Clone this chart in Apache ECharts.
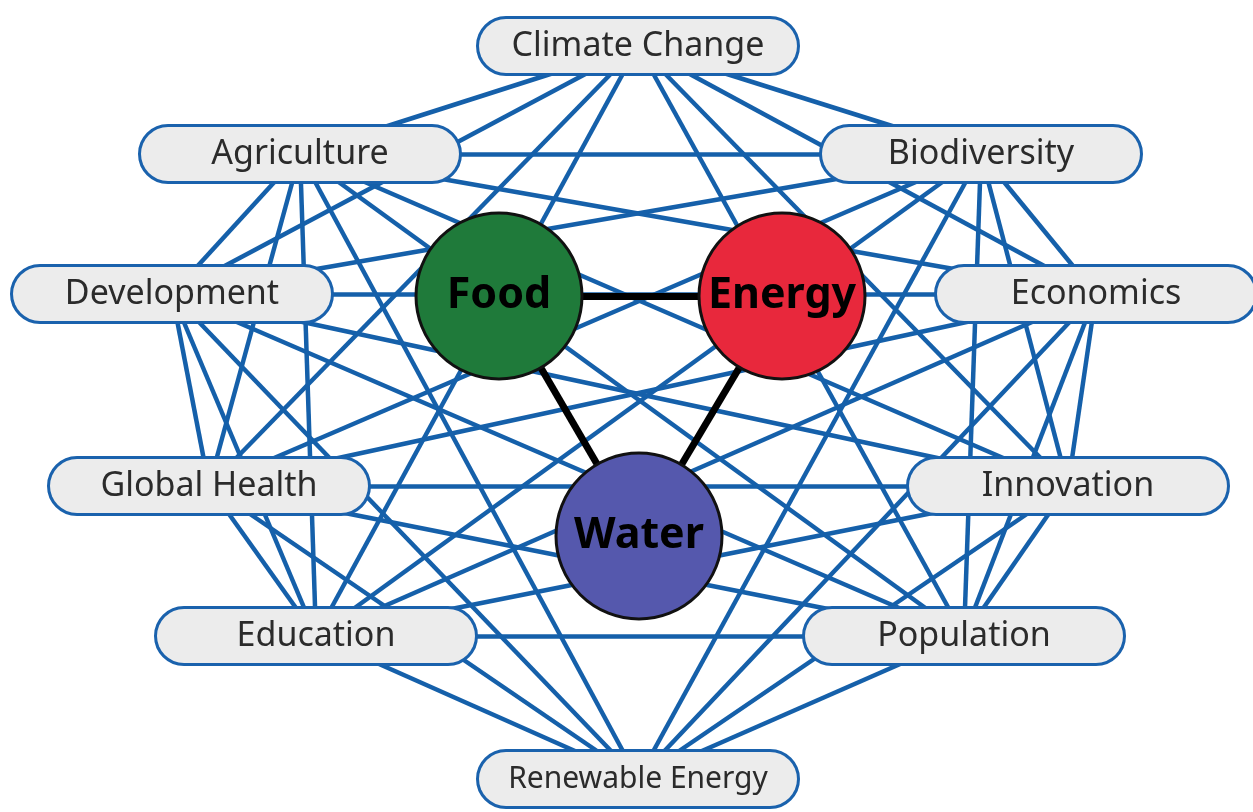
<!DOCTYPE html>
<html>
<head>
<meta charset="utf-8">
<script src="https://cdn.jsdelivr.net/npm/echarts@6/dist/echarts.min.js"></script>
<style>html,body{margin:0;padding:0;background:#fff}#c{width:1253px;height:812px}</style>
</head>
<body>
<div id="c"></div>
<script>
// Outer topic nodes
const outerNames = ['Climate Change','Agriculture','Biodiversity','Development','Economics','Global Health','Innovation','Education','Population','Renewable Energy'];
const outerX = [638, 300, 981, 172, 1096, 209, 1068, 316, 964, 638];
const outerY = [46, 154, 154, 294, 294, 486, 486, 636, 636, 779];
// Core nexus nodes
const coreNames = ['Food','Energy','Water'];
const coreX = [499, 782, 639];
const coreY = [296, 296, 536];
const coreColors = ['#1f7a3a', '#e8283c', '#5558ad'];
// Blue links between outer topics (indices into outerNames)
const outerLinks = [
  [0,1],[0,2],[0,3],[0,4],[0,5],[0,6],[0,7],[0,8],
  [1,2],[1,3],[1,4],[1,5],[1,6],[1,7],[1,8],[1,9],
  [2,3],[2,4],[2,5],[2,6],[2,7],[2,8],[2,9],
  [3,4],[3,5],[3,6],[3,7],[3,8],[3,9],
  [4,5],[4,6],[4,7],[4,8],[4,9],
  [5,6],[5,7],[5,8],[5,9],
  [6,7],[6,8],[6,9],
  [7,8],[7,9],
  [8,9]
];
// Black links between core nodes (indices into coreNames)
const coreLinks = [[0,1],[0,2],[1,2]];

const nodes = [];
outerNames.forEach((n, i) => {
  nodes.push({
    name: n, value: [outerX[i], outerY[i]],
    symbol: 'rect', symbolSize: [4, 4],
    itemStyle: {color: 'transparent', borderWidth: 0},
    label: {show: true, position: 'inside', color: '#2b2b2b',
      fontFamily: 'Noto Sans', fontSize: n === 'Renewable Energy' ? 30 : 34,
      width: 318, height: 54, lineHeight: 54, align: 'center', verticalAlign: 'middle',
      padding: 0, backgroundColor: '#ececec', borderColor: '#1a62ad', borderWidth: 3,
      borderRadius: 27}
  });
});
coreNames.forEach((n, i) => {
  nodes.push({
    name: n, value: [coreX[i], coreY[i]],
    symbol: 'circle', symbolSize: 166,
    itemStyle: {color: coreColors[i], borderColor: '#111', borderWidth: 3},
    label: {show: true, position: 'inside', color: '#000',
      fontFamily: 'Noto Sans', fontWeight: 'bold', fontSize: 43}
  });
});
const links = [];
outerLinks.forEach(([a, b]) => links.push({source: a, target: b,
  lineStyle: {color: '#1560aa', width: 4.5, opacity: 1}}));
coreLinks.forEach(([a, b]) => links.push({source: a + 10, target: b + 10,
  lineStyle: {color: '#000', width: 7, opacity: 1}}));

const chart = echarts.init(document.getElementById('c'));
chart.setOption({
  animation: false,
  grid: {left: 0, right: 0, top: 0, bottom: 0},
  xAxis: {type: 'value', min: 0, max: 1253, show: false},
  yAxis: {type: 'value', min: 0, max: 812, inverse: true, show: false},
  series: [{
    type: 'graph',
    coordinateSystem: 'cartesian2d',
    layout: 'none',
    data: nodes,
    links: links,
    emphasis: {disabled: true},
    lineStyle: {curveness: 0}
  }]
});
</script>
</body>
</html>
